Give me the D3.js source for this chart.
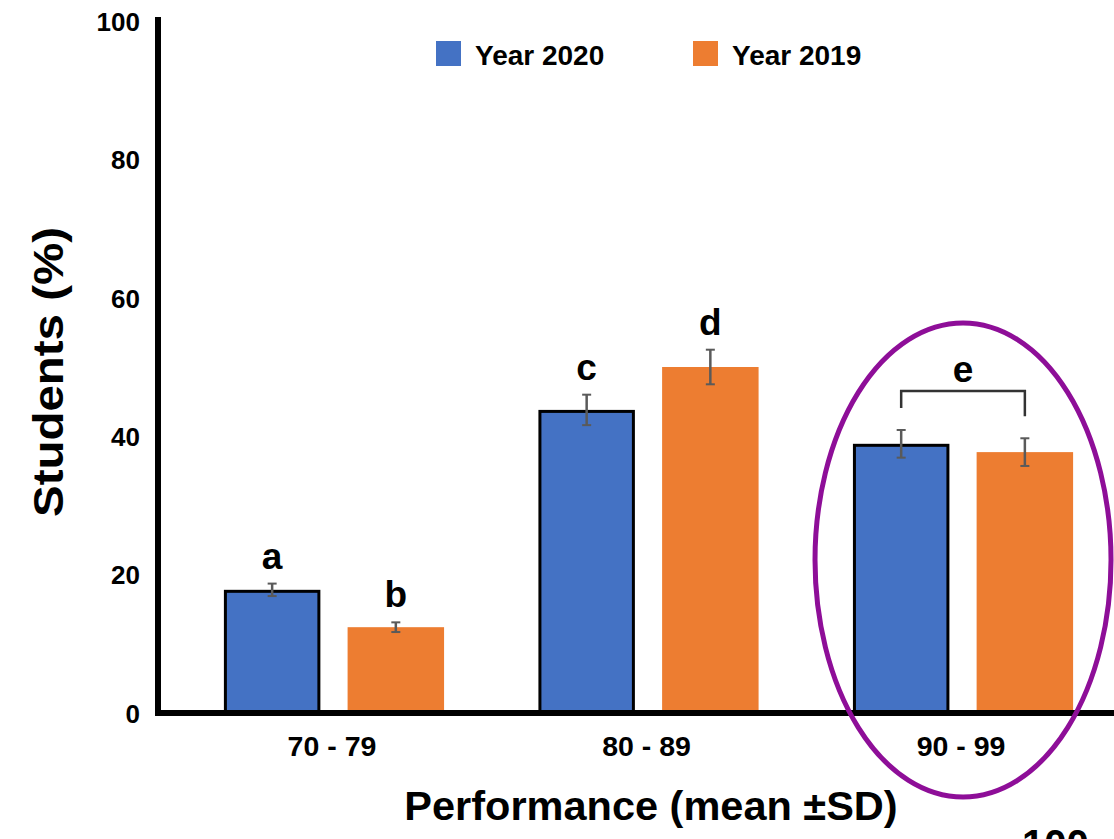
<!DOCTYPE html>
<html>
<head>
<meta charset="utf-8">
<script src="https://cdn.jsdelivr.net/npm/d3@7"></script>
<style>
  html, body { margin: 0; padding: 0; background: #fff; }
  svg { display: block; font-family: "Liberation Sans", Arial, Helvetica, sans-serif; }
</style>
</head>
<body>
<svg id="chart" width="1114" height="839"></svg>
<script>
// ---- data ----
const categories = ["70 - 79", "80 - 89", "90 - 99"];
const seriesNames = ["Year 2020", "Year 2019"];
const year2020 = [17.8, 43.8, 38.9];
const year2019 = [12.4, 50.0, 37.7];
const sd2020 = [0.9, 2.2, 2.0];
const sd2019 = [0.7, 2.5, 2.0];
const letters2020 = ["a", "c", null];
const letters2019 = ["b", "d", null];
const groupLetter = [null, null, "e"];
const yTicks = [0, 20, 40, 60, 80, 100];
const colors = ["#4472C4", "#ED7D31"];

const svg = d3.select("#chart");

const x0 = d3.scaleBand().domain(categories).range([161, 1136]).paddingInner(0.3).paddingOuter(0.2);
const x1 = d3.scaleBand().domain(seriesNames).range([0, x0.bandwidth()]).paddingInner(0.22);
const y = d3.scaleLinear().domain([0, 100]).range([713, 21]);

const rows = categories.map((c, i) => ({
  cat: c,
  items: [
    { s: seriesNames[0], v: year2020[i], sd: sd2020[i], letter: letters2020[i], color: colors[0], stroke: true },
    { s: seriesNames[1], v: year2019[i], sd: sd2019[i], letter: letters2019[i], color: colors[1], stroke: false }
  ],
  gl: groupLetter[i]
}));

// bars
const g = svg.append("g");
const groups = g.selectAll("g.grp").data(rows).join("g")
  .attr("class", "grp")
  .attr("transform", d => `translate(${x0(d.cat)},0)`);

groups.selectAll("rect").data(d => d.items).join("rect")
  .attr("x", d => x1(d.s) + (d.stroke ? 1.5 : 0))
  .attr("y", d => y(d.v) + (d.stroke ? 1.5 : 0))
  .attr("width", d => x1.bandwidth() - (d.stroke ? 3 : 0))
  .attr("height", d => y(0) - y(d.v) - (d.stroke ? 1.5 : 0))
  .attr("fill", d => d.color)
  .attr("stroke", d => d.stroke ? "#000" : "none")
  .attr("stroke-width", 3);

// error bars
const eb = groups.selectAll("g.err").data(d => d.items).join("g").attr("class", "err");
eb.append("line")
  .attr("x1", d => x1(d.s) + x1.bandwidth() / 2)
  .attr("x2", d => x1(d.s) + x1.bandwidth() / 2)
  .attr("y1", d => y(d.v + d.sd))
  .attr("y2", d => y(d.v - d.sd))
  .attr("stroke", "#5a5a5a").attr("stroke-width", 2.5);
[1, -1].forEach(sgn => {
  eb.append("line")
    .attr("x1", d => x1(d.s) + x1.bandwidth() / 2 - 4.5)
    .attr("x2", d => x1(d.s) + x1.bandwidth() / 2 + 4.5)
    .attr("y1", d => y(d.v + sgn * d.sd))
    .attr("y2", d => y(d.v + sgn * d.sd))
    .attr("stroke", "#5a5a5a").attr("stroke-width", 2);
});

// significance letters
groups.selectAll("text.lt").data(d => d.items.filter(it => it.letter)).join("text")
  .attr("class", "lt")
  .attr("x", d => x1(d.s) + x1.bandwidth() / 2)
  .attr("y", d => y(d.v + d.sd) - 15)
  .attr("text-anchor", "middle")
  .attr("font-size", 37).attr("font-weight", "bold")
  .text(d => d.letter);

// group bracket
groups.filter(d => d.gl).each(function (d) {
  const sel = d3.select(this);
  const xa = x1(d.items[0].s) + x1.bandwidth() / 2;
  const xb = x1(d.items[1].s) + x1.bandwidth() / 2;
  const top = Math.min(y(d.items[0].v + d.items[0].sd), y(d.items[1].v + d.items[1].sd)) - 39;
  sel.append("path")
    .attr("d", `M${xa},${y(d.items[0].v + d.items[0].sd) - 22}V${top}H${xb}V${y(d.items[1].v + d.items[1].sd) - 22}`)
    .attr("fill", "none").attr("stroke", "#333").attr("stroke-width", 2.5);
  sel.append("text")
    .attr("x", (xa + xb) / 2).attr("y", top - 9)
    .attr("text-anchor", "middle")
    .attr("font-size", 37).attr("font-weight", "bold")
    .text(d.gl);
});

// y axis
const yAxis = svg.append("g")
  .attr("transform", "translate(158,0)")
  .call(d3.axisLeft(y).tickValues(yTicks).tickSize(0).tickPadding(18).tickFormat(d3.format("d")));
yAxis.select(".domain").attr("stroke", "#000").attr("stroke-width", 6)
  .attr("d", `M0,17V${y(0) + 2}`);
yAxis.selectAll("text").attr("font-size", 26).attr("font-weight", "bold")
  .attr("font-family", "Liberation Sans, Arial, sans-serif").attr("fill", "#000")
  .attr("dy", "0.36em");

// x axis
const xAxis = svg.append("g")
  .attr("transform", `translate(0,${y(0)})`)
  .call(d3.axisBottom(x0).tickSize(0).tickPadding(23));
xAxis.select(".domain").attr("stroke", "#000").attr("stroke-width", 6)
  .attr("d", "M155,0H1114");
xAxis.selectAll("text").attr("font-size", 28.5).attr("font-weight", "bold")
  .attr("font-family", "Liberation Sans, Arial, sans-serif").attr("fill", "#000")
  .attr("dx", -2);

// axis titles
svg.append("text")
  .attr("x", 651).attr("y", 820)
  .attr("text-anchor", "middle")
  .attr("font-size", 41.5).attr("font-weight", "bold")
  .text("Performance (mean \u00B1SD)");

svg.append("text")
  .attr("transform", "translate(63,372) rotate(-90)")
  .attr("text-anchor", "middle")
  .attr("font-size", 42).attr("font-weight", "bold")
  .attr("textLength", 290).attr("lengthAdjust", "spacingAndGlyphs")
  .text("Students (%)");

// legend
const legendX = [436, 693];
const leg = svg.selectAll("g.leg").data(seriesNames).join("g")
  .attr("class", "leg")
  .attr("transform", (d, i) => `translate(${legendX[i]},41)`);
leg.append("rect").attr("width", 25).attr("height", 25).attr("fill", (d, i) => colors[i]);
leg.append("text").attr("x", 39).attr("y", 24)
  .attr("font-size", 28).attr("font-weight", "bold").text(d => d);

// highlight ellipse around the last group
const lastCat = categories[categories.length - 1];
svg.append("ellipse")
  .attr("cx", x0(lastCat) + x0.bandwidth() / 2)
  .attr("cy", 560).attr("rx", 148).attr("ry", 237)
  .attr("fill", "none").attr("stroke", "#8E0E98").attr("stroke-width", 5);

// clipped artifact text at bottom right (cut off in the reference too)
svg.append("text")
  .attr("x", 1022).attr("y", 858)
  .attr("font-size", 40).attr("font-weight", "bold")
  .text("100");
</script>
</body>
</html>
